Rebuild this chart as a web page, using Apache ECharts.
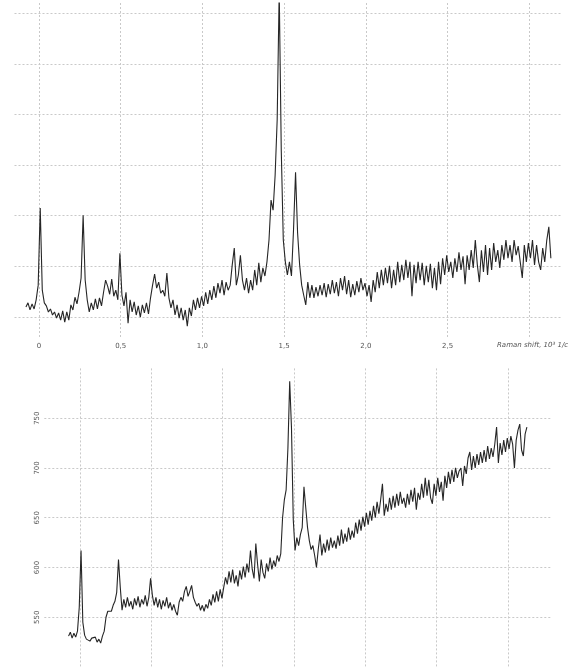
<!DOCTYPE html>
<html lang="en">
<head>
<meta charset="UTF-8">
<title>Raman spectra</title>
<style>
    * {
        margin: 0;
        padding: 0;
    }

    body {
        background: #fff;
    }

    #main {
        width: 568px;
        height: 670px;
    }
</style>
<script src="https://cdn.jsdelivr.net/npm/echarts@6/dist/echarts.min.js"></script>
</head>
<body>
<div id="main"></div>
<script>
    // sampling of Raman shift, 10^3 1/cm
    var shiftStart = -0.08;
    var shiftStep = 0.0125;

    // upper spectrum, arbitrary intensity (grid line = 100)
    var topIntensity = [
        20, 28, 14, 26, 16, 34, 63, 215, 53, 28,
        22, 10, 16, 4, 10, -2, 8, -6, 12, -10,
        10, -6, 24, 14, 39, 26, 49, 77, 201, 73,
        34, 10, 28, 14, 36, 16, 38, 22, 49, 73,
        61, 45, 75, 41, 53, 34, 126, 43, 22, 49,
        -12, 34, 10, 30, 4, 22, 0, 24, 8, 28,
        6, 38, 63, 85, 57, 69, 47, 53, 41, 87,
        38, 18, 34, 4, 24, -2, 18, -6, 14, -18,
        18, 2, 34, 14, 38, 18, 41, 22, 49, 26,
        53, 34, 61, 38, 67, 47, 73, 43, 69, 53,
        63, 103, 136, 63, 83, 122, 73, 53, 77, 47,
        73, 53, 93, 63, 107, 69, 97, 81, 109, 152,
        231, 211, 280, 389, 645, 330, 152, 109, 83, 109,
        81, 172, 286, 166, 103, 63, 43, 24, 69, 38,
        63, 38, 59, 41, 63, 43, 67, 39, 65, 45,
        73, 47, 69, 41, 77, 53, 81, 45, 73, 39,
        65, 43, 71, 49, 77, 53, 67, 41, 63, 30,
        73, 49, 89, 57, 93, 63, 97, 67, 101, 57,
        93, 63, 109, 69, 103, 73, 113, 77, 109, 41,
        103, 67, 109, 73, 107, 63, 101, 69, 105, 57,
        97, 53, 109, 65, 116, 83, 122, 89, 109, 77,
        116, 89, 128, 93, 120, 65, 122, 93, 132, 97,
        152, 103, 69, 132, 89, 142, 83, 136, 93, 146,
        109, 132, 97, 142, 113, 152, 116, 142, 109, 152,
        122, 140, 109, 77, 142, 109, 146, 116, 152, 103,
        142, 109, 93, 136, 109, 152, 178, 116
    ];

    // lower spectrum, counts
    var bottomIntensity = [
        531, 535, 529, 534, 530, 536, 560, 617, 545, 532,
        528, 530, 526, 529, 527, 530, 525, 528, 524, 531,
        536, 550, 556, 558, 556, 562, 566, 575, 608, 580,
        557, 568, 560, 570, 561, 566, 558, 569, 562, 571,
        560, 568, 563, 572, 561, 570, 589, 572, 562, 570,
        560, 568, 558, 567, 561, 570, 559, 565, 557, 563,
        556, 552, 565, 570, 566, 576, 581, 571, 576, 582,
        570, 565, 561, 564, 557, 562, 556, 563, 559, 568,
        562, 573, 565, 576, 566, 578, 569, 580, 590, 583,
        596, 585, 598, 584, 592, 581, 597, 588, 601, 590,
        604, 595, 617, 598, 589, 624, 603, 586, 608, 595,
        589, 604, 596, 610, 598, 607, 601, 612, 606, 614,
        650, 668, 678, 720, 787, 740, 648, 617, 630, 622,
        633, 640, 681, 660, 640, 627, 618, 622, 612, 600,
        618, 633, 612, 624, 615, 628, 617, 630, 620, 627,
        619, 632, 622, 638, 624, 634, 626, 640, 628, 637,
        630, 645, 634, 648, 637, 651, 641, 655, 643, 657,
        647, 662, 650, 666, 654, 668, 684, 652, 664, 656,
        670, 658, 672, 660, 674, 662, 676, 664, 670, 660,
        674, 663, 678, 666, 680, 658, 675, 668, 684, 670,
        690, 672, 688, 670, 664, 684, 672, 690, 676, 686,
        667, 692, 680, 696, 684, 698, 686, 700, 690, 697,
        700, 682, 702, 694, 710, 716, 698, 712, 700, 714,
        703, 716, 705, 718, 706, 722, 709, 720, 711, 724,
        741, 705, 725, 713, 728, 716, 730, 719, 732, 724,
        700, 728, 738, 744, 718, 712, 734, 741
    ];

    var topShiftLabels = [0, 0.5, 1.0, 1.5, 2.0, 2.5];
    var bottomIntensityLabels = [550, 600, 650, 700, 750];
    var axisTitle = 'Raman shift, 10³ 1/cm';

    function toPairs(vals) {
        return vals.map(function (v, i) {
            return [+(shiftStart + i * shiftStep).toFixed(4), v];
        });
    }

    function isIn(list, v) {
        for (var i = 0; i < list.length; i++) {
            if (Math.abs(list[i] - v) < 1e-6) return true;
        }
        return false;
    }

    var T = 'rgba(0,0,0,0)';
    var G = '#c9c9c9';
    var dash = [2, 2];

    var myChart = echarts.init(document.getElementById('main'));

    var option = {
        backgroundColor: '#fff',
        animation: false,
        grid: [
            { left: 14.5, top: 3, width: 547.4, height: 334.3 },
            { left: 44.3, top: 368.4, width: 506.5, height: 320 }
        ],
        xAxis: [
            {
                gridIndex: 0,
                type: 'value',
                min: -0.15,
                max: 3.2,
                interval: 0.05,
                axisLine: { show: false },
                axisTick: { show: false },
                axisLabel: {
                    fontSize: 7,
                    color: '#555',
                    margin: 5,
                    fontFamily: 'DejaVu Sans',
                    formatter: function (v) {
                        if (!isIn(topShiftLabels, v)) return '';
                        return v === 0 ? '0' : v.toFixed(1).replace('.', ',');
                    }
                },
                splitLine: {
                    show: true,
                    showMinLine: false,
                    showMaxLine: false,
                    lineStyle: {
                        type: dash,
                        width: 1,
                        color: [T, T, G, T, T, T, T, T, T, T]
                    }
                }
            },
            {
                gridIndex: 1,
                type: 'value',
                min: -0.25,
                max: 3.3,
                interval: 0.25,
                axisLine: { show: false },
                axisTick: { show: false },
                axisLabel: { show: false },
                splitLine: {
                    show: true,
                    showMinLine: false,
                    showMaxLine: false,
                    lineStyle: { type: dash, width: 1, color: [G, T] }
                }
            }
        ],
        yAxis: [
            {
                gridIndex: 0,
                type: 'value',
                min: -40,
                max: 620,
                interval: 20,
                axisLine: { show: false },
                axisTick: { show: false },
                axisLabel: { show: false },
                splitLine: {
                    show: true,
                    showMinLine: false,
                    showMaxLine: false,
                    lineStyle: { type: dash, width: 1, color: [T, G, T, T, T] }
                }
            },
            {
                gridIndex: 1,
                type: 'value',
                min: 500,
                max: 800,
                interval: 50,
                axisLine: { show: false },
                axisTick: { show: false },
                axisLabel: {
                    rotate: 90,
                    fontSize: 7,
                    color: '#555',
                    margin: 4,
                    fontFamily: 'DejaVu Sans',
                    formatter: function (v) {
                        return isIn(bottomIntensityLabels, v) ? String(v) : '';
                    }
                },
                splitLine: {
                    show: true,
                    showMinLine: false,
                    showMaxLine: false,
                    lineStyle: { type: dash, width: 1, color: G }
                }
            }
        ],
        graphic: [
            {
                type: 'text',
                left: 497,
                top: 342,
                style: {
                    text: axisTitle,
                    fontSize: 7,
                    fontStyle: 'italic',
                    fontFamily: 'DejaVu Sans',
                    fill: '#555'
                }
            }
        ],
        series: [
            {
                type: 'line',
                xAxisIndex: 0,
                yAxisIndex: 0,
                showSymbol: false,
                lineStyle: { color: '#262626', width: 1.1 },
                data: toPairs(topIntensity)
            },
            {
                type: 'line',
                xAxisIndex: 1,
                yAxisIndex: 1,
                showSymbol: false,
                lineStyle: { color: '#262626', width: 1.1 },
                data: toPairs(bottomIntensity)
            }
        ]
    };

    myChart.setOption(option);
</script>
</body>
</html>
